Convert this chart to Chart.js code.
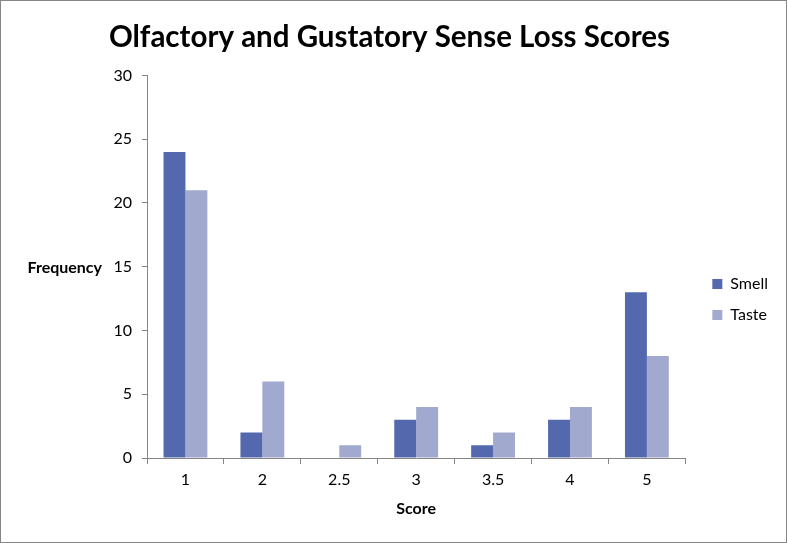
<!DOCTYPE html>
<html lang="en">
<head>
    <meta charset="UTF-8">
    <title>Olfactory and Gustatory Sense Loss Scores</title>
    <script src="https://cdn.jsdelivr.net/npm/chart.js"></script>
    <style>
        html, body { margin: 0; padding: 0; background: #fff; }
        #wrap { width: 785px; height: 541px; border: 1px solid #868686; }
    </style>
</head>
<body>
    <div id="wrap"><canvas id="scoreChart" width="785" height="541"></canvas></div>
    <script>
        const scores = ['1', '2', '2.5', '3', '3.5', '4', '5'];
        const smell = [24, 2, 0, 3, 1, 3, 13];
        const taste = [21, 6, 1, 4, 2, 4, 8];
        const yTicks = [0, 5, 10, 15, 20, 25, 30];

        const font = 'Lato, "Liberation Sans", sans-serif';
        const axisGrey = '#868686';

        // side label "Frequency", Excel style (not rotated)
        const sideLabel = {
            id: 'sideLabel',
            afterDraw(chart) {
                const c = chart.ctx;
                const a = chart.chartArea;
                c.save();
                c.font = 'bold 16px ' + font;
                c.fillStyle = '#000';
                c.textAlign = 'right';
                c.textBaseline = 'middle';
                c.fillText('Frequency', 101, (a.top + a.bottom) / 2 + 1);
                c.restore();
            }
        };

        const ctx = document.getElementById('scoreChart').getContext('2d');
        new Chart(ctx, {
            type: 'bar',
            data: {
                labels: scores,
                datasets: [
                    { label: 'Smell', data: smell, backgroundColor: '#5468ae' },
                    { label: 'Taste', data: taste, backgroundColor: '#a1aace' }
                ]
            },
            options: {
                responsive: false,
                animation: false,
                categoryPercentage: 0.57,
                barPercentage: 1.0,
                layout: { padding: { left: 0, right: 8, top: 0, bottom: 0 } },
                plugins: {
                    title: {
                        display: true,
                        text: 'Olfactory and Gustatory Sense Loss Scores',
                        color: '#000',
                        font: { family: font, size: 29.5, weight: 'bold' },
                        padding: { top: 19, bottom: 20 }
                    },
                    legend: {
                        position: 'right',
                        title: { display: true, text: ' ', font: { size: 10 }, padding: { top: 44, bottom: 0 } },
                        labels: {
                            color: '#000',
                            font: { family: font, size: 16 },
                            boxWidth: 10,
                            boxHeight: 10,
                            padding: 15
                        }
                    },
                    tooltip: { enabled: false }
                },
                scales: {
                    x: {
                        grid: { drawOnChartArea: false, drawTicks: true, tickLength: 6, color: axisGrey },
                        border: { color: axisGrey },
                        ticks: { color: '#000', font: { family: font, size: 16 }, padding: 6 },
                        title: {
                            display: true,
                            text: 'Score',
                            color: '#000',
                            font: { family: font, size: 16, weight: 'bold' },
                            padding: { top: 4, bottom: 24 }
                        },
                        afterFit(s) { s.height = 84; }
                    },
                    y: {
                        min: 0,
                        max: 30,
                        afterBuildTicks(s) { s.ticks = yTicks.map(v => ({ value: v })); },
                        grid: { drawOnChartArea: false, drawTicks: true, tickLength: 5, color: axisGrey },
                        border: { color: axisGrey },
                        ticks: { color: '#000', font: { family: font, size: 16 }, padding: 10 },
                        afterFit(s) { s.width = 146; }
                    },
                    // empty axis, only keeps a gap between the plot and the legend
                    gap: {
                        type: 'linear',
                        position: 'right',
                        grid: { display: false },
                        border: { display: false },
                        ticks: { display: false },
                        afterFit(s) { s.width = 12; }
                    }
                }
            },
            plugins: [sideLabel]
        });
    </script>
</body>
</html>
